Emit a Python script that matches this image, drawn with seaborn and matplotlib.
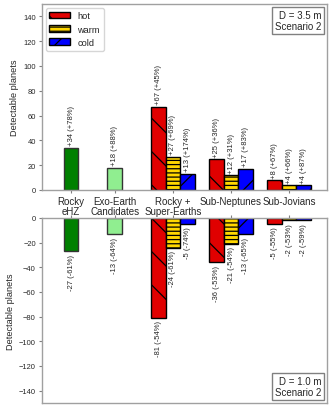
import numpy as np
import pandas as pd
import seaborn as sns
import matplotlib.pyplot as plt
from matplotlib.patches import Patch

sns.set_style("white")
plt.rcParams['font.family'] = ['Liberation Sans', 'DejaVu Sans']
plt.rcParams['hatch.linewidth'] = 0.9

# categories
groups = ["Rocky\neHZ", "Exo-Earth\nCandidates", "Rocky +\nSuper-Earths", "Sub-Neptunes", "Sub-Jovians"]
temps = ["hot", "warm", "cold"]

# D = 3.5 m (gain)
ehz_up = 34
exo_up = 18
hot_up = [67, 25, 8]
warm_up = [27, 12, 4]
cold_up = [13, 17, 4]
lab_up = ["+34 (+78%)", "+18 (+88%)",
          "+67 (+45%)", "+27 (+69%)", "+13 (+174%)",
          "+25 (+36%)", "+12 (+31%)", "+17 (+83%)",
          "+8 (+67%)", "+4 (+66%)", "+4 (+87%)"]

# D = 1.0 m (loss)
ehz_dn = -27
exo_dn = -13
hot_dn = [-81, -36, -5]
warm_dn = [-24, -21, -2]
cold_dn = [-5, -13, -2]
lab_dn = ["-27 (-61%)", "-13 (-64%)",
          "-81 (-54%)", "-24 (-61%)", "-5 (-74%)",
          "-36 (-53%)", "-21 (-54%)", "-13 (-65%)",
          "-5 (-55%)", "-2 (-53%)", "-2 (-59%)"]

colors = {"eHZ": "green", "exo": "lightgreen", "hot": "#e00000", "warm": "gold", "cold": "blue"}
hatches = {"eHZ": "", "exo": "", "hot": "\\", "warm": "----", "cold": "/"}
order = ["eHZ", "exo", "hot", "warm", "cold"]

group_pos = [0, 0.75, 1.75, 2.75, 3.75]
w = 0.25


def make_df(ehz, exo, hot, warm, cold, labels):
    rows = [(group_pos[0], ehz, "eHZ"), (group_pos[1], exo, "exo")]
    for i in range(3):
        g = group_pos[2 + i]
        rows.append((g - w, hot[i], "hot"))
        rows.append((g, warm[i], "warm"))
        rows.append((g + w, cold[i], "cold"))
    df = pd.DataFrame(rows, columns=["pos", "val", "kind"])
    df["label"] = labels
    return df


df_up = make_df(ehz_up, exo_up, hot_up, warm_up, cold_up, lab_up)
df_dn = make_df(ehz_dn, exo_dn, hot_dn, warm_dn, cold_dn, lab_dn)

fig = plt.figure(figsize=(3.32, 4.10), dpi=100)
ax1 = fig.add_axes([42 / 332, 1 - 191 / 410, 285 / 332, 186 / 410])
ax2 = fig.add_axes([42 / 332, 1 - 404 / 410, 285 / 332, 185 / 410])

for ax, df, sign in [(ax1, df_up, 1), (ax2, df_dn, -1)]:
    sns.barplot(data=df, x="pos", y="val", hue="kind", hue_order=order, palette=colors,
                native_scale=True, width=1.0, dodge=False, legend=False, ax=ax,
                saturation=1, edgecolor="black", linewidth=1.0)
    for cont, k in zip(ax.containers, order):
        for p in cont:
            p.set_hatch(hatches[k])
            if k in ("eHZ", "exo"):
                p.set_edgecolor("#333333")
    for _, r in df.iterrows():
        ax.text(r["pos"], r["val"] + sign * 2, r["label"], rotation=90, fontsize=5.5,
                ha="center", va="bottom" if sign > 0 else "top")
    ax.set_xlim(-0.5, 4.4)
    ax.set_ylabel("Detectable planets", fontsize=6.6, labelpad=3)
    ax.set_xlabel("")
    ax.set_yticks(np.arange(0, 141, 20) * sign)
    ax.tick_params(axis="y", labelsize=5.4, length=2.5, left=True, direction="out",
                   color="#808080", pad=2)
    for s in ax.spines.values():
        s.set_color("#a0a0a0")
        s.set_linewidth(1.0)

ax1.set_ylim(0, 150)
ax2.set_ylim(-150, 0)
ax1.set_xticks(group_pos)
ax1.set_xticklabels(groups, fontsize=7, va="top", linespacing=1.0)
ax1.tick_params(axis="x", bottom=True, length=2.5, color="#808080", pad=1.5)
ax2.set_xticks(group_pos)
ax2.set_xticklabels([])
ax2.tick_params(axis="x", top=True, bottom=False, length=2.5, color="#808080", direction="out")

handles = [Patch(facecolor=colors[k], edgecolor="black", hatch=hatches[k], label=k) for k in temps]
ax1.legend(handles=handles, loc="upper left", fontsize=6.7, frameon=True, handlelength=2.2,
           borderaxespad=0.4, labelspacing=0.45, edgecolor="#cccccc", fancybox=True)

ax1.text(0.98, 0.97, "D = 3.5 m\nScenario 2", transform=ax1.transAxes, ha="right", va="top",
         fontsize=7, bbox=dict(boxstyle="square,pad=0.3", facecolor="white", edgecolor="#808080"))
ax2.text(0.98, 0.03, "D = 1.0 m\nScenario 2", transform=ax2.transAxes, ha="right", va="bottom",
         fontsize=7, bbox=dict(boxstyle="square,pad=0.3", facecolor="white", edgecolor="#808080"))

fig.savefig("out.png", dpi=100)
